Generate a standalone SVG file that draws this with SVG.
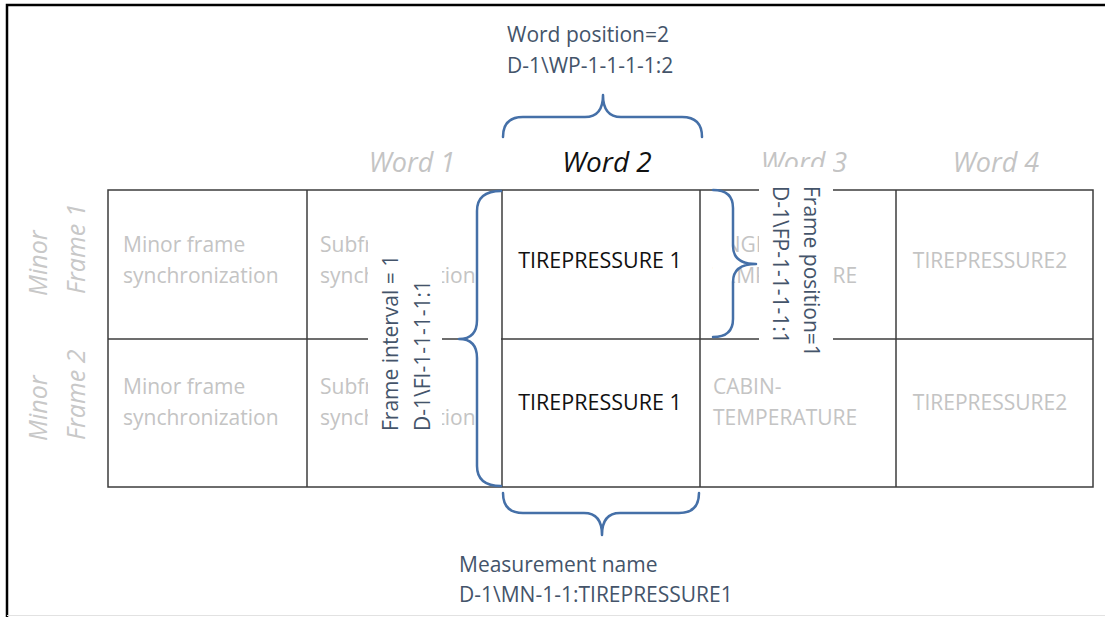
<svg xmlns="http://www.w3.org/2000/svg" width="1105" height="617" viewBox="0 0 1105 617">
<style>
  text { font-family: "Open Sans", "Liberation Sans", sans-serif; }
  .cell { font-size: 21px; fill: #c4c4c4; }
  .main { font-size: 21.5px; fill: #111111; }
  .word { font-size: 27px; font-style: italic; fill: #c4c4c4; }
  .wordb { font-size: 28px; font-style: italic; fill: #111111; }
  .minor { font-size: 25px; font-style: italic; fill: #c8c8c8; }
  .ann { font-size: 21px; fill: #44546a; }
  .grid { stroke: #3c3c3c; stroke-width: 1.5; fill: none; }
  .brace { stroke: #4570a8; stroke-width: 2.5; fill: none; stroke-linecap: round; stroke-linejoin: round; }
  .bracef { stroke: #4570a8; stroke-width: 2.5; fill: #ffffff; stroke-linecap: round; stroke-linejoin: round; }
  .box { fill: #ffffff; stroke: none; }
</style>
<rect x="0" y="0" width="1105" height="617" fill="#ffffff"/>
<path d="M7,617 L7,5 L1105,5" stroke="#000000" stroke-width="2.5" fill="none"/>
<line x1="7" y1="615.5" x2="1105" y2="615.5" stroke="#e2e2e2" stroke-width="1"/>

<g id="grid">
  <rect class="grid" x="108" y="190" width="985" height="297"/>
  <line class="grid" x1="108" y1="339" x2="1093" y2="339"/>
  <line class="grid" x1="307" y1="190" x2="307" y2="487"/>
  <line class="grid" x1="502" y1="190" x2="502" y2="487"/>
  <line class="grid" x1="700" y1="190" x2="700" y2="487"/>
  <line class="grid" x1="896" y1="190" x2="896" y2="487"/>
</g>

<g id="word-labels">
  <text class="word" x="412" y="172" text-anchor="middle">Word 1</text>
  <text class="wordb" x="607" y="172" text-anchor="middle">Word 2</text>
  <text class="word" x="804" y="172" text-anchor="middle">Word 3</text>
  <text class="word" x="996" y="172" text-anchor="middle">Word 4</text>
</g>

<g id="frame-labels">
  <text class="minor" transform="translate(47,296) rotate(-90)">Minor</text>
  <text class="minor" transform="translate(85,294) rotate(-90)">Frame 1</text>
  <text class="minor" transform="translate(47,441) rotate(-90)">Minor</text>
  <text class="minor" transform="translate(85,440) rotate(-90)">Frame 2</text>
</g>

<g id="cell-r1-c1"><text class="cell" x="123" y="252">Minor frame</text><text class="cell" x="123" y="283">synchronization</text></g>
<g id="cell-r2-c1"><text class="cell" x="123" y="394">Minor frame</text><text class="cell" x="123" y="425">synchronization</text></g>
<g id="cell-r1-c2"><text class="cell" x="320" y="252">Subframe</text><text class="cell" x="320" y="283">synchronization</text></g>
<g id="cell-r2-c2"><text class="cell" x="320" y="394">Subframe</text><text class="cell" x="320" y="425">synchronization</text></g>
<g id="cell-r1-c3"><text class="main" x="600" y="268" text-anchor="middle">TIREPRESSURE 1</text></g>
<g id="cell-r2-c3"><text class="main" x="600" y="410" text-anchor="middle">TIREPRESSURE 1</text></g>
<g id="cell-r1-c4"><text class="cell" x="713" y="252">ENGINE-</text><text class="cell" x="713" y="283">TEMPERATURE</text></g>
<g id="cell-r2-c4"><text class="cell" x="713" y="394">CABIN-</text><text class="cell" x="713" y="425">TEMPERATURE</text></g>
<g id="cell-r1-c5"><text class="cell" x="990" y="268" text-anchor="middle">TIREPRESSURE2</text></g>
<g id="cell-r2-c5"><text class="cell" x="990" y="410" text-anchor="middle">TIREPRESSURE2</text></g>

<g id="connectors">
  <path class="brace" d="M503,137 Q503,117 523,117 L585,117 Q603,117 603,95 Q603,117 621,117 L682,117 Q702,117 702,137"/>
  <path class="brace" d="M503,493 Q503,513 523,513 L584,513 Q602,513 602,535 Q602,513 620,513 L679,513 Q699,513 699,493"/>
  <path class="bracef" d="M501,191 Q477,191 477,211 L477,320 Q477,339 459,339 Q477,339 477,358 L477,466 Q477,486 501,486"/>
  <path class="bracef" d="M713,190 Q733,190 733,208 L733,246 Q733,264 756,264 Q733,264 733,282 L733,319 Q733,337 713,337"/>
</g>

<g id="frame-interval">
  <rect class="box" x="368" y="225" width="74" height="220"/>
  <text class="ann" transform="translate(398,431) rotate(-90)"><tspan x="0" y="0">Frame interval = 1</tspan><tspan x="0" y="32">D-1\FI-1-1-1-1:1</tspan></text>
</g>

<g id="frame-position">
  <rect class="box" x="759" y="167" width="74" height="193"/>
  <text class="ann" transform="translate(804,186) rotate(90)"><tspan x="0" y="0">Frame position=1</tspan><tspan x="0" y="31">D-1\FP-1-1-1-1:1</tspan></text>
</g>

<g id="word-position">
  <text class="ann" x="507" y="42">Word position=2</text>
  <text class="ann" x="507" y="73">D-1\WP-1-1-1-1:2</text>
</g>

<g id="measurement-name">
  <text class="ann" x="459" y="572">Measurement name</text>
  <text class="ann" x="459" y="602">D-1\MN-1-1:TIREPRESSURE1</text>
</g>
</svg>
